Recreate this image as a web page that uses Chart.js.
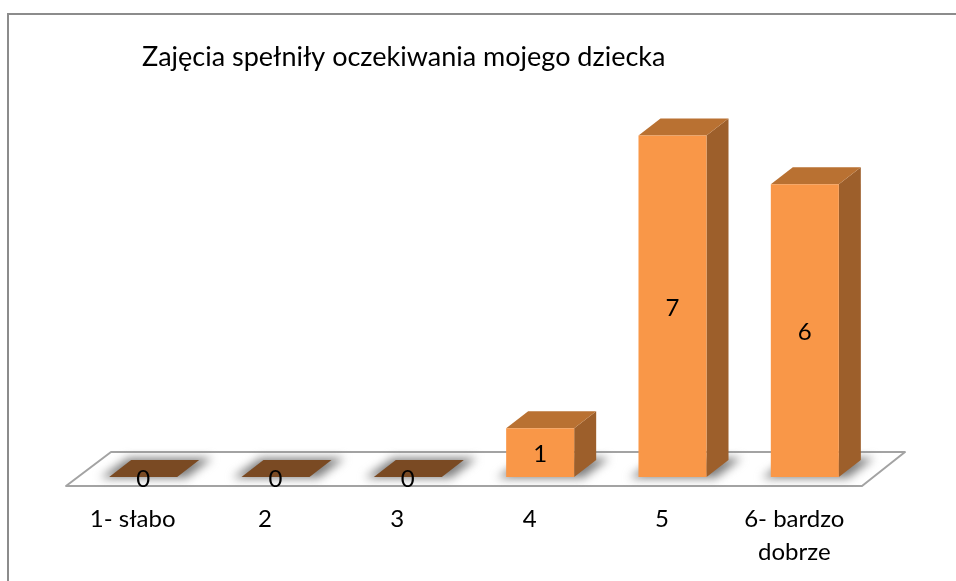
<!DOCTYPE html>
<html>
<head>
<meta charset="utf-8">
<style>
  html, body { margin: 0; padding: 0; background: #fff; overflow: hidden; }
  #frame { position: absolute; left: 7px; top: 13px; width: 949px; height: 568px; border-left: 2px solid #8c8c8c; border-top: 2px solid #8c8c8c; box-sizing: border-box; }
  #myChart { position: absolute; left: 0; top: 0; }
</style>
<script src="https://cdn.jsdelivr.net/npm/chart.js@4"></script>
</head>
<body>
<div id="frame"></div>
<canvas id="myChart" width="956" height="581"></canvas>
<script>
var chartTitle = 'Zajęcia spełniły oczekiwania mojego dziecka';
var categories = ['1- słabo', '2', '3', '4', '5', ['6- bardzo', 'dobrze']];
var values = [0, 0, 0, 1, 7, 6];

var depthX = 22;
var depthY = 17;

function poly(ctx, pts) {
    ctx.beginPath();
    ctx.moveTo(pts[0][0], pts[0][1]);
    for (var i = 1; i < pts.length; i++) {
        ctx.lineTo(pts[i][0], pts[i][1]);
    }
    ctx.closePath();
}

// the 3d look: floor, shadows, tops and sides go under the library's bars
var bars3d = {
    id: 'bars3d',
    afterLayout: function (chart) {
        chart.titleBlock.left = 142;
    },
    beforeDatasetsDraw: function (chart) {
        var ctx = chart.ctx;
        var xs = chart.scales.x;
        var y0 = chart.scales.y.getPixelForValue(0);
        var bars = chart.getDatasetMeta(0).data;

        ctx.save();
        poly(ctx, [[xs.left - 11, y0 + 9], [xs.right - 9, y0 + 9], [xs.right + 34, y0 - 25], [xs.left + 34, y0 - 25]]);
        ctx.fillStyle = '#ffffff';
        ctx.fill();
        ctx.strokeStyle = '#a3a3a3';
        ctx.lineWidth = 2;
        ctx.lineJoin = 'round';
        ctx.stroke();

        bars.forEach(function (bar) {
            var left = bar.x - bar.width / 2;
            var right = bar.x + bar.width / 2;
            ctx.save();
            ctx.filter = 'blur(5px)';
            ctx.fillStyle = '#7f7f7f';
            poly(ctx, [[left - 9, y0 + 1], [right + 9, y0 + 1], [right + depthX + 13, y0 - depthY - 2], [left + depthX - 3, y0 - depthY - 2]]);
            ctx.fill();
            ctx.restore();
        });

        bars.forEach(function (bar, i) {
            var left = bar.x - bar.width / 2;
            var right = bar.x + bar.width / 2;
            var top = bar.y;
            if (values[i] === 0) {
                ctx.fillStyle = '#7a4a23';
                poly(ctx, [[left, y0], [right, y0], [right + depthX, y0 - depthY], [left + depthX, y0 - depthY]]);
                ctx.fill();
                return;
            }
            ctx.fillStyle = '#9d5f2b';
            poly(ctx, [[right, y0], [right + depthX, y0 - depthY], [right + depthX, top - depthY], [right, top]]);
            ctx.fill();
            ctx.fillStyle = '#b97132';
            poly(ctx, [[left, top], [right, top], [right + depthX, top - depthY], [left + depthX, top - depthY]]);
            ctx.fill();
        });
        ctx.restore();
    },
    afterDatasetsDraw: function (chart) {
        var ctx = chart.ctx;
        var y0 = chart.scales.y.getPixelForValue(0);
        ctx.save();
        ctx.font = '24px Lato';
        ctx.fillStyle = '#000000';
        ctx.textAlign = 'center';
        ctx.textBaseline = 'middle';
        chart.getDatasetMeta(0).data.forEach(function (bar, i) {
            ctx.fillText(values[i], bar.x, (bar.y + y0) / 2 + 2);
        });
        ctx.restore();
    }
};

new Chart(document.getElementById('myChart').getContext('2d'), {
    type: 'bar',
    data: {
        labels: categories,
        datasets: [{
            data: values,
            backgroundColor: '#f99748',
            borderWidth: 0,
            barPercentage: 0.514,
            categoryPercentage: 1
        }]
    },
    options: {
        responsive: false,
        animation: false,
        events: [],
        layout: { padding: { left: 77, right: 85, top: 0, bottom: 10 } },
        plugins: {
            legend: { display: false },
            tooltip: { enabled: false },
            title: {
                display: true,
                text: chartTitle,
                align: 'start',
                color: '#000000',
                font: { family: 'Lato', size: 27, weight: 'normal', lineHeight: 1.25 },
                padding: { top: 40, bottom: 13 }
            }
        },
        scales: {
            x: {
                afterFit: function (scale) {
                    scale.height = 94;
                },
                grid: { display: false, drawTicks: false },
                border: { display: false },
                ticks: {
                    color: '#000000',
                    font: { family: 'Lato', size: 24, lineHeight: 1.375 },
                    padding: 26,
                    labelOffset: -10.5,
                    autoSkip: false,
                    maxRotation: 0,
                    minRotation: 0
                }
            },
            y: {
                display: false,
                min: 0,
                max: 8
            }
        }
    },
    plugins: [bars3d]
});
</script>
</body>
</html>
